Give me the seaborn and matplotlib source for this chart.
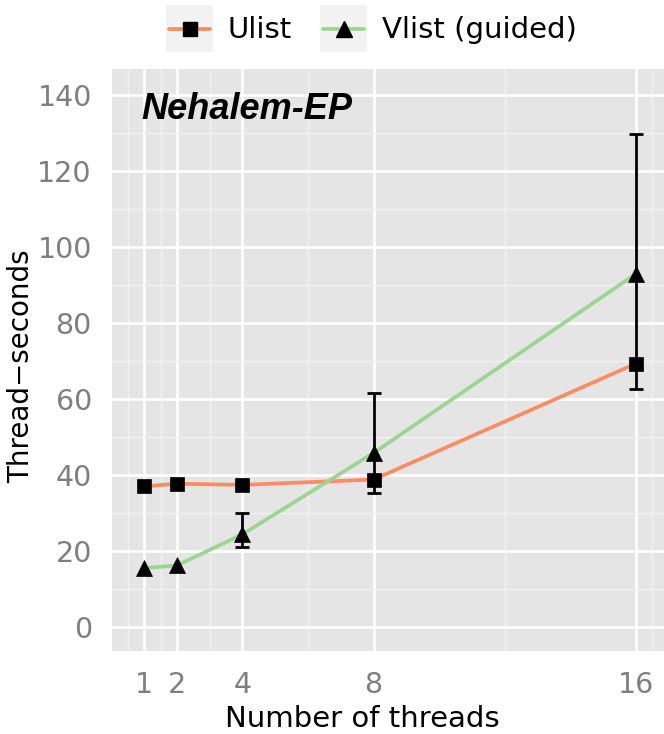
import numpy as np
import pandas as pd
import matplotlib
matplotlib.use("Agg")
import matplotlib.pyplot as plt
from matplotlib.lines import Line2D
from matplotlib.patches import Rectangle
import seaborn as sns

# ---- data ----
threads = [1, 2, 4, 8, 16]
ulist = [37.0, 37.7, 37.4, 38.8, 69.3]
vlist = [15.5, 16.2, 24.4, 45.8, 92.9]
series_names = ["Ulist", "Vlist (guided)"]
err_x = [4, 8, 16]
err_lo = [21.1, 35.3, 62.7]
err_hi = [29.9, 61.6, 129.7]
x_ticks = [1, 2, 4, 8, 16]
y_ticks = [0, 20, 40, 60, 80, 100, 120, 140]
x_minor = [0.5, 1.5, 3, 6, 12, 16.5]
y_minor = [10, 30, 50, 70, 90, 110, 130]
colors = {"Ulist": "#FC8D62", "Vlist (guided)": "#9AD68F"}
markers = {"Ulist": "s", "Vlist (guided)": "^"}
msizes = {"s": 9.5, "^": 12}

df = pd.DataFrame({
    "threads": threads * 2,
    "value": ulist + vlist,
    "series": [series_names[0]] * len(threads) + [series_names[1]] * len(threads),
})

sns.set_theme(style="white")
plt.rcParams["font.family"] = ["DejaVu Sans"]

fig = plt.figure(figsize=(6.64, 7.34), dpi=100)
ax = fig.add_axes([112 / 664, 1 - 651 / 734, 1 - 112 / 664, (651 - 69) / 734])
ax.set_facecolor("#E5E5E5")

sns.lineplot(data=df, x="threads", y="value", hue="series", style="series",
             palette=colors, markers=markers, dashes=False, legend=False,
             linewidth=2.7, markersize=9, ax=ax, zorder=3)
for ln in ax.lines:
    ln.set_markerfacecolor("black")
    ln.set_markeredgecolor("black")
    ln.set_markeredgewidth(0.5)
    if ln.get_marker() in msizes:
        ln.set_markersize(msizes[ln.get_marker()])

err_mid = [(a + b) / 2 for a, b in zip(err_lo, err_hi)]
err_half = [(b - a) / 2 for a, b in zip(err_lo, err_hi)]
ax.errorbar(err_x, err_mid, yerr=err_half, fmt="none", ecolor="black",
            elinewidth=2.0, capsize=5, capthick=2.0, zorder=4)

ax.set_xlim(0.02, 16.86)
ax.set_ylim(-6.3, 146.8)
ax.set_xticks(x_ticks)
ax.set_xticklabels([str(t) for t in x_ticks])
ax.set_yticks(y_ticks)
ax.set_xticks(x_minor, minor=True)
ax.set_yticks(y_minor, minor=True)
ax.grid(which="major", color="white", linewidth=1.9, zorder=0)
ax.grid(which="minor", color="#F2F2F2", linewidth=1.0, zorder=0)
ax.set_axisbelow(True)
for s in ax.spines.values():
    s.set_visible(False)
ax.tick_params(which="major", length=10, width=1.8, color="#7F7F7F",
               labelcolor="#7F7F7F", labelsize=20.5, pad=4.5)
ax.tick_params(which="minor", length=0)

ax.set_xlabel("Number of threads", fontsize=21, color="black")
ax.set_ylabel("Thread\u2212seconds", fontsize=20, color="black")
ax.xaxis.set_label_coords(0.453, -0.093)
ax.yaxis.set_label_coords(-0.139, 0.49)

ax.text(0.91, 133.6, "Nehalem-EP", fontsize=26, fontweight="bold",
        fontstyle="italic", family=["Liberation Sans", "DejaVu Sans"],
        ha="left", va="baseline", color="black", zorder=5)

# ---- manual legend at top ----
W, H = 664, 734
def fx(px):
    return px / W
def fy(py):
    return 1 - py / H

leg_items = [("Ulist", 166, 228), ("Vlist (guided)", 320, 382)]
for name, kx, tx in leg_items:
    fig.patches.append(Rectangle((fx(kx), fy(52)), 47 / W, 47 / H,
                                 transform=fig.transFigure, facecolor="#F2F2F2",
                                 edgecolor="none"))
    fig.lines.append(Line2D([fx(kx + 3), fx(kx + 44)], [fy(28.5), fy(28.5)],
                            transform=fig.transFigure, color=colors[name],
                            linewidth=2.7))
    fig.lines.append(Line2D([fx(kx + 23.5)], [fy(28.5)], transform=fig.transFigure,
                            marker=markers[name], markersize=msizes[markers[name]],
                            color="black", linestyle="none"))
    fig.text(fx(tx), fy(37.7), name, fontsize=21, ha="left", va="baseline",
             color="black")

fig.savefig("out.png", dpi=100)
